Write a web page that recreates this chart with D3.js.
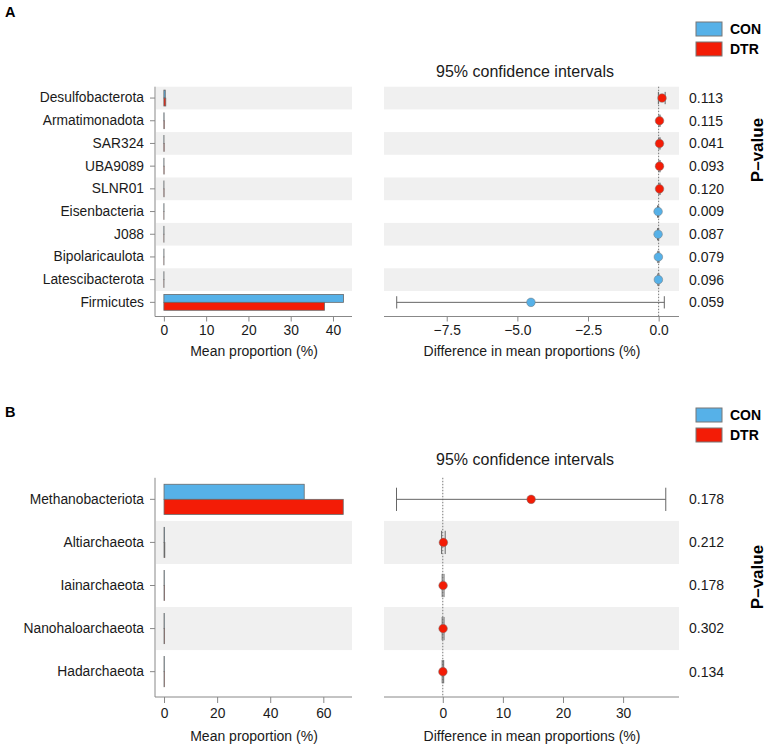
<!DOCTYPE html>
<html>
<head>
<meta charset="utf-8">
<script src="https://cdn.jsdelivr.net/npm/d3@7"></script>
<style>
  body { margin: 0; background: #fff; }
  svg { display: block; font-family: "Liberation Sans", Arial, sans-serif; }
</style>
</head>
<body>
<div id="container"></div>
<script>
// ---- panel A data ----
var catsA = ["Desulfobacterota", "Armatimonadota", "SAR324", "UBA9089", "SLNR01",
             "Eisenbacteria", "J088", "Bipolaricaulota", "Latescibacterota", "Firmicutes"];
var conA  = [0.33, 0.05, 0.03, 0.03, 0.02, 0.03, 0.03, 0.02, 0.02, 42.5];
var dtrA  = [0.45, 0.09, 0.07, 0.06, 0.05, 0.01, 0.01, 0.01, 0.01, 38.0];
var diffA = [0.12, 0.03, 0.03, 0.03, 0.03, -0.02, -0.02, -0.01, -0.01, -4.52];
var lowA  = [-0.01, 0.01, 0.01, 0.01, 0.01, -0.04, -0.04, -0.03, -0.03, -9.27];
var highA = [0.23, 0.05, 0.05, 0.05, 0.05, 0.00, 0.00, 0.01, 0.01, 0.20];
var pA    = ["0.113", "0.115", "0.041", "0.093", "0.120", "0.009", "0.087", "0.079", "0.096", "0.059"];
var ticksLeftA  = [0, 10, 20, 30, 40];
var ticksRightA = [-7.5, -5.0, -2.5, 0.0];

// ---- panel B data ----
var catsB = ["Methanobacteriota", "Altiarchaeota", "Iainarchaeota", "Nanohaloarchaeota", "Hadarchaeota"];
var conB  = [52.8, 0.2, 0.1, 0.1, 0.1];
var dtrB  = [67.5, 0.3, 0.15, 0.15, 0.12];
var diffB = [14.7, 0.1, 0.05, 0.05, 0.02];
var lowB  = [-7.7, -0.2, -0.1, -0.1, -0.1];
var highB = [37.1, 0.4, 0.2, 0.2, 0.15];
var pB    = ["0.178", "0.212", "0.178", "0.302", "0.134"];
var ticksLeftB  = [0, 20, 40, 60];
var ticksRightB = [0, 10, 20, 30];

var groups = ["CON", "DTR"];
var colors = ["#56B1E8", "#F31C06"];

var W = 767, H = 748;
var svg = d3.select("#container").append("svg")
    .attr("width", W).attr("height", H);

function drawPanel(p) {
  var n = p.cats.length;
  var g = svg.append("g");

  var y = d3.scaleBand().domain(p.cats).range([p.top, p.bottom]).padding(0);
  var xl = d3.scaleLinear().domain(p.leftDomain).range([155, 352]);
  var xr = d3.scaleLinear().domain(p.rightDomain).range([384, 679]);
  var bw = y.bandwidth();
  var barH = bw * 0.35;

  // stripes
  p.cats.forEach(function(c, i) {
    if ((n - 1 - i) % 2 === 1) {
      g.append("rect").attr("x", 156).attr("y", y(c)).attr("width", 196).attr("height", bw)
        .attr("fill", "#f0f0f0");
      g.append("rect").attr("x", 384).attr("y", y(c)).attr("width", 295).attr("height", bw)
        .attr("fill", "#f0f0f0");
    }
  });

  // bars
  [p.con, p.dtr].forEach(function(vals, k) {
    g.selectAll(null).data(vals).enter().append("rect")
      .attr("x", xl(0))
      .attr("y", function(d, i) { return y(p.cats[i]) + bw / 2 - barH + k * barH; })
      .attr("width", function(d) { return Math.max(0.1, xl(d) - xl(0)); })
      .attr("height", barH)
      .attr("fill", colors[k])
      .attr("stroke", "#6a6a6a").attr("stroke-width", 0.8);
  });

  // left axes
  var axL = g.append("g").attr("transform", "translate(155,0)")
    .call(d3.axisLeft(y).tickSize(5).tickPadding(6));
  axL.select(".domain").remove();
  g.append("line").attr("x1", 155).attr("x2", 155).attr("y1", p.top).attr("y2", p.axisY)
    .attr("stroke", "#888");
  var axB = g.append("g").attr("transform", "translate(0," + p.axisY + ")")
    .call(d3.axisBottom(xl).tickValues(p.ticksLeft).tickSize(p.tickSize).tickPadding(p.tickPad));
  axB.select(".domain").attr("d", "M155,0H352");

  // right axis
  var axR = g.append("g").attr("transform", "translate(0," + p.axisY + ")")
    .call(d3.axisBottom(xr).tickValues(p.ticksRight).tickSize(p.tickSize).tickPadding(p.tickPad)
      .tickFormat(p.rightFmat));
  axR.select(".domain").attr("d", "M384,0H679");

  [axL, axB, axR].forEach(function(a) {
    a.selectAll("line").attr("stroke", "#888");
    a.select(".domain").attr("stroke", "#888");
    a.selectAll("text").attr("fill", "#1a1a1a").style("font-size", "13.8px")
      .style("font-family", "'Liberation Sans', Arial, sans-serif");
  });

  // zero line
  g.append("line").attr("x1", xr(0)).attr("x2", xr(0)).attr("y1", p.top).attr("y2", p.axisY)
    .attr("stroke", "#777").attr("stroke-dasharray", "1.5,1.5");

  // CI
  var cap = bw * 0.27;
  p.cats.forEach(function(c, i) {
    var cy = y(c) + bw / 2;
    g.append("line").attr("x1", xr(p.low[i])).attr("x2", xr(p.high[i])).attr("y1", cy).attr("y2", cy)
      .attr("stroke", "#666");
    [p.low[i], p.high[i]].forEach(function(v) {
      g.append("line").attr("x1", xr(v)).attr("x2", xr(v)).attr("y1", cy - cap).attr("y2", cy + cap)
        .attr("stroke", "#666");
    });
  });
  g.selectAll(null).data(p.diff).enter().append("circle")
    .attr("cx", function(d) { return xr(d); })
    .attr("cy", function(d, i) { return y(p.cats[i]) + bw / 2; })
    .attr("r", 4.3)
    .attr("fill", function(d) { return d > 0 ? colors[1] : colors[0]; })
    .attr("stroke", "#777").attr("stroke-width", 0.5);

  // p-values
  g.selectAll(null).data(p.pvals).enter().append("text")
    .attr("x", 689)
    .attr("y", function(d, i) { return y(p.cats[i]) + bw / 2; })
    .attr("dy", "0.35em")
    .style("font-size", "14px").attr("fill", "#1a1a1a")
    .text(function(d) { return d; });

  // titles
  g.append("text").attr("x", 525).attr("y", p.titleY).attr("text-anchor", "middle")
    .style("font-size", "16px").attr("fill", "#1a1a1a").text("95% confidence intervals");
  g.append("text").attr("x", 254).attr("y", p.xTitleY).attr("text-anchor", "middle")
    .style("font-size", "14px").attr("fill", "#1a1a1a").text("Mean proportion (%)");
  g.append("text").attr("x", 532).attr("y", p.xTitleY).attr("text-anchor", "middle")
    .style("font-size", "14px").attr("fill", "#1a1a1a").text("Difference in mean proportions (%)");
  g.append("text").attr("transform", "translate(763," + p.pLabY + ") rotate(-90)")
    .attr("text-anchor", "middle").style("font-size", "17px").style("font-weight", "bold")
    .text("P\u2013value");
  g.append("text").attr("x", 5).attr("y", p.letterY).style("font-size", "14.5px")
    .style("font-weight", "bold").text(p.letter);

  // legend
  groups.forEach(function(name, k) {
    var ly = p.legendY + k * 20;
    g.append("rect").attr("x", 696).attr("y", ly).attr("width", 26).attr("height", 14)
      .attr("fill", colors[k]).attr("stroke", "#777");
    g.append("text").attr("x", 730).attr("y", ly + 7).attr("dy", "0.35em")
      .style("font-size", "14px").style("font-weight", "bold").text(name);
  });
}

drawPanel({
  letter: "A", letterY: 17, cats: catsA, con: conA, dtr: dtrA,
  diff: diffA, low: lowA, high: highA, pvals: pA,
  top: 86.7, bottom: 313.7, axisY: 316.5,
  leftDomain: [-2.1, 44.5], rightDomain: [-9.72, 0.72],
  ticksLeft: ticksLeftA, ticksRight: ticksRightA, rightFmat: d3.format(".1f"),
  tickSize: 5, tickPad: 4, titleY: 77, xTitleY: 356, pLabY: 150, legendY: 22
});

drawPanel({
  letter: "B", letterY: 417, cats: catsB, con: conB, dtr: dtrB,
  diff: diffB, low: lowB, high: highB, pvals: pB,
  top: 477.8, bottom: 693.2, axisY: 697,
  leftDomain: [-3.4, 70.8], rightDomain: [-9.78, 39.3],
  ticksLeft: ticksLeftB, ticksRight: ticksRightB, rightFmat: d3.format("d"),
  tickSize: 6, tickPad: 5, titleY: 465, xTitleY: 741, pLabY: 577, legendY: 408
});
</script>
</body>
</html>
